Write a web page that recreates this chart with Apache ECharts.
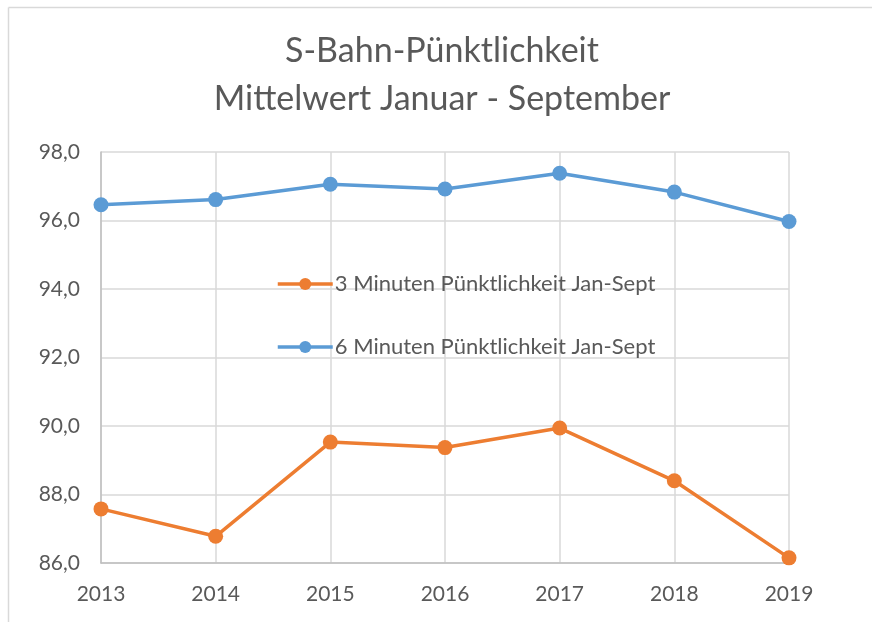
<!DOCTYPE html>
<html>
<head>
<meta charset="utf-8">
<script src="https://cdn.jsdelivr.net/npm/echarts@6/dist/echarts.min.js"></script>
<style>html,body{margin:0;padding:0;background:#fff;}#c{width:872px;height:622px;}</style>
</head>
<body>
<div id="c"></div>
<script>
const years = ['2013','2014','2015','2016','2017','2018','2019'];
const series3Name = '3 Minuten Pünktlichkeit Jan-Sept';
const series6Name = '6 Minuten Pünktlichkeit Jan-Sept';
const values3 = [87.58, 86.78, 89.53, 89.37, 89.94, 88.40, 86.15];
const values6 = [96.46, 96.61, 97.06, 96.92, 97.38, 96.83, 95.97];
const titleLines = ['S-Bahn-Pünktlichkeit', 'Mittelwert Januar - September'];

const FONT = 'Lato';
const TXT = '#595959';
const chart = echarts.init(document.getElementById('c'), null, {renderer: 'canvas'});
chart.setOption({
  backgroundColor: '#fff',
  animation: false,
  title: {
    text: titleLines.join('\n'),
    left: 442,
    textAlign: 'center',
    top: 27,
    padding: 0,
    textStyle: {fontFamily: FONT, fontSize: 34, fontWeight: 'normal', color: TXT, lineHeight: 48}
  },
  graphic: [
    {type: 'line', shape: {x1: 8.5, y1: 7.5, x2: 872, y2: 7.5}, style: {stroke: '#d9d9d9', lineWidth: 1.5}},
    {type: 'line', shape: {x1: 8.5, y1: 7.5, x2: 8.5, y2: 622}, style: {stroke: '#d9d9d9', lineWidth: 1.5}}
  ],
  legend: {
    orient: 'vertical',
    left: 276,
    top: 273,
    padding: 0,
    itemWidth: 55,
    itemHeight: 15,
    itemGap: 41,
    lineStyle: {width: 3.5},
    textStyle: {fontFamily: FONT, fontSize: 22, color: TXT, padding: [0, 0, 0, -3]},
    data: [series3Name, series6Name]
  },
  grid: {left: 101, right: 83, top: 152, bottom: 59, containLabel: false},
  xAxis: {
    type: 'category',
    data: years,
    boundaryGap: false,
    axisLine: {show: true, lineStyle: {color: '#bfbfbf', width: 1.5}},
    axisTick: {show: false},
    axisLabel: {fontFamily: FONT, fontSize: 21, color: TXT, margin: 21},
    splitLine: {show: true, lineStyle: {color: '#d9d9d9', width: 1.5}}
  },
  yAxis: {
    type: 'value',
    min: 86,
    max: 98,
    interval: 2,
    axisLine: {show: true, lineStyle: {color: '#bfbfbf', width: 1.5}},
    axisTick: {show: false},
    axisLabel: {fontFamily: FONT, fontSize: 21, color: TXT, margin: 21,
      formatter: v => v.toFixed(1).replace('.', ',')},
    splitLine: {show: true, lineStyle: {color: '#d9d9d9', width: 1.5}}
  },
  series: [
    {name: series3Name, type: 'line', data: values3, symbol: 'circle', symbolSize: 15,
      itemStyle: {color: '#ED7D31'}, lineStyle: {color: '#ED7D31', width: 3.5}},
    {name: series6Name, type: 'line', data: values6, symbol: 'circle', symbolSize: 15,
      itemStyle: {color: '#5B9BD5'}, lineStyle: {color: '#5B9BD5', width: 3.5}}
  ]
});
</script>
</body>
</html>
